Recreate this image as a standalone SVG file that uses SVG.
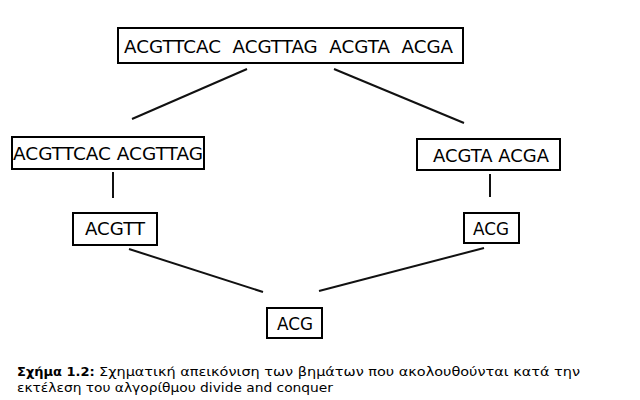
<svg xmlns="http://www.w3.org/2000/svg" width="640" height="400" viewBox="0 0 640 400">
<style>
.box{fill:#fff;stroke:#000;stroke-width:2}
.lbl{font-family:"DejaVu Sans",sans-serif;fill:#000}
.edge{stroke:#111;stroke-width:2;fill:none}
.cap{font-family:"DejaVu Sans",sans-serif;font-size:13px;fill:#000}
</style>
<rect width="640" height="400" fill="#fff"/>
<g id="edges">
<line class="edge" x1="247" y1="69" x2="132" y2="119"/>
<line class="edge" x1="334" y1="69" x2="464" y2="123"/>
<line class="edge" x1="113" y1="172" x2="113" y2="198"/>
<line class="edge" x1="490" y1="174" x2="490" y2="197"/>
<line class="edge" x1="129" y1="249" x2="263" y2="292"/>
<line class="edge" x1="484" y1="248" x2="319" y2="291"/>
</g>
<g id="root">
<rect class="box" x="118" y="28" width="345" height="35"/>
<text class="lbl" x="124" y="53" font-size="18" textLength="329" lengthAdjust="spacingAndGlyphs" xml:space="preserve">ACGTTCAC  ACGTTAG  ACGTA  ACGA</text>
</g>
<g id="left">
<rect class="box" x="12" y="137" width="192" height="32"/>
<text class="lbl" x="13" y="160" font-size="18" textLength="190" lengthAdjust="spacingAndGlyphs">ACGTTCAC ACGTTAG</text>
</g>
<g id="right">
<rect class="box" x="417" y="139" width="143" height="31"/>
<text class="lbl" x="433" y="162" font-size="18" textLength="116" lengthAdjust="spacingAndGlyphs">ACGTA ACGA</text>
</g>
<g id="leftchild">
<rect class="box" x="73" y="213" width="84" height="32"/>
<text class="lbl" x="85" y="235" font-size="17" textLength="60" lengthAdjust="spacingAndGlyphs">ACGTT</text>
</g>
<g id="rightchild">
<rect class="box" x="464" y="213" width="55" height="30"/>
<text class="lbl" x="473" y="235" font-size="17" textLength="36" lengthAdjust="spacingAndGlyphs">ACG</text>
</g>
<g id="result">
<rect class="box" x="267" y="308" width="55" height="30"/>
<text class="lbl" x="277" y="330" font-size="17" textLength="36" lengthAdjust="spacingAndGlyphs">ACG</text>
</g>
<g id="caption">
<text class="cap" x="17" y="376" font-weight="bold">Σχήμα 1.2:</text>
<text class="cap" x="99" y="376" textLength="481" lengthAdjust="spacingAndGlyphs">Σχηματική απεικόνιση των βημάτων που ακολουθούνται κατά την</text>
<text class="cap" x="17" y="392" textLength="316" lengthAdjust="spacingAndGlyphs">εκτέλεση του αλγορίθμου divide and conquer</text>
</g>
</svg>
